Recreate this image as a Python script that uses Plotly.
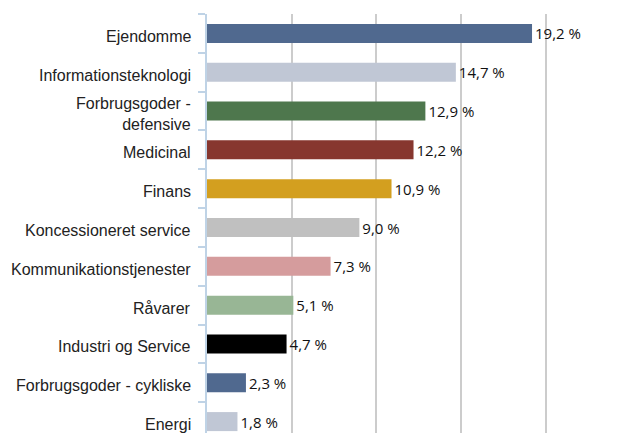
import plotly.graph_objects as go

categories = ["Ejendomme", "Informationsteknologi", "Forbrugsgoder -<br>defensive", "Medicinal",
              "Finans", "Koncessioneret service", "Kommunikationstjenester", "Råvarer",
              "Industri og Service", "Forbrugsgoder - cykliske", "Energi"]
values = [19.2, 14.7, 12.9, 12.2, 10.9, 9.0, 7.3, 5.1, 4.7, 2.3, 1.8]
colors = ["#50698f", "#c0c7d5", "#4e774d", "#87372f", "#d39f1f", "#c0c0c0",
          "#d59c9d", "#98b695", "#000000", "#50698f", "#c0c7d5"]
labels = [f"{v:.1f}".replace(".", ",") + " %" for v in values]

fig = go.Figure(go.Bar(
    x=values, y=categories, orientation="h",
    marker=dict(color=colors, line=dict(width=0)),
    width=0.49,
    text=labels, textposition="outside", cliponaxis=False, constraintext="none",
    textfont=dict(family="Open Sans", size=15, color="#111111"),
))

for c in categories:
    fig.add_annotation(x=0, xref="paper", y=c, yref="y", text=c, showarrow=False,
                       xanchor="right", align="right", xshift=-14, yshift=-3,
                       font=dict(family="Liberation Sans, Arial", size=16, color="#222222"))

fig.update_layout(
    width=630, height=433,
    margin=dict(l=199, r=0, t=6, b=0),
    plot_bgcolor="white", paper_bgcolor="white",
    showlegend=False,
    font=dict(family="Liberation Sans, Arial", size=16, color="#222222"),
    xaxis=dict(range=[0, 25.46], showticklabels=False, showgrid=True,
               gridcolor="#cccccc", gridwidth=1.5, dtick=5, zeroline=False,
               showline=False),
    yaxis=dict(categoryorder="array", categoryarray=categories, automargin=False,
               range=[10.5, -0.5], showline=True, linecolor="#bfd3e6", linewidth=2,
               ticks="outside", tickson="boundaries", ticklen=7, tickcolor="#bfd3e6",
               tickwidth=2, showgrid=False, showticklabels=False),
)

fig.write_html("out.html")
